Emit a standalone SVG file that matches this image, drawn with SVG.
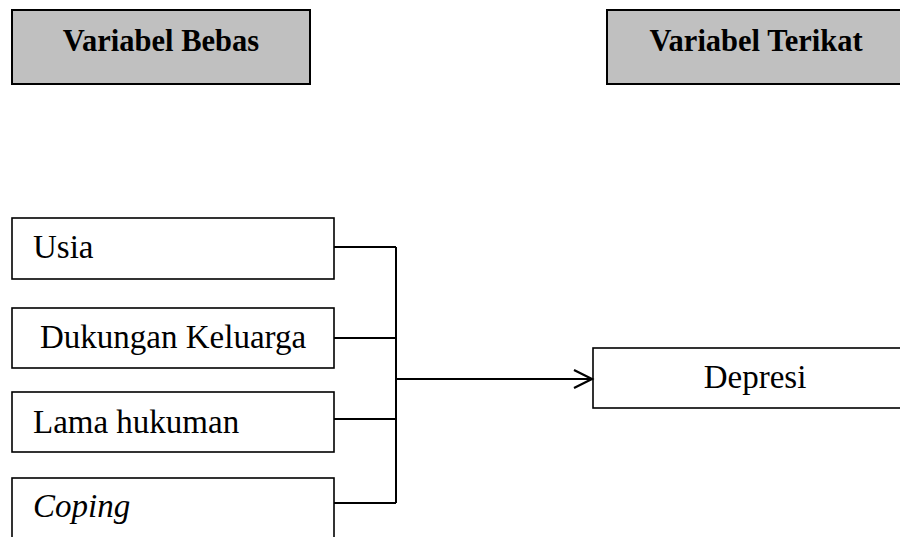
<svg xmlns="http://www.w3.org/2000/svg" width="900" height="537" viewBox="0 0 900 537">
<defs>
<style>
.hdr{fill:#c0c0c0;stroke:#000;stroke-width:2}
.box{fill:#fff;stroke:#000;stroke-width:1.6}
.ht{font-family:"Liberation Serif","Times New Roman",serif;font-weight:bold;font-size:30.5px;fill:#000}
.t{font-family:"Liberation Serif","Times New Roman",serif;font-size:33px;fill:#000}
.ln{fill:none;stroke:#000;stroke-width:2}
</style>
<marker id="arr" markerWidth="24" markerHeight="24" refX="20" refY="10" orient="auto" markerUnits="userSpaceOnUse">
<path d="M2,1 L20,10 L2,19" fill="none" stroke="#000" stroke-width="2.2"/>
</marker>
</defs>
<rect width="900" height="537" fill="#fff"/>
<g id="bebas">
<rect class="hdr" x="12" y="10" width="298" height="74"/>
<text class="ht" x="161" y="51" text-anchor="middle">Variabel Bebas</text>
</g>
<g id="terikat">
<rect class="hdr" x="607" y="10" width="300" height="74"/>
<text class="ht" x="756" y="51" text-anchor="middle">Variabel Terikat</text>
</g>
<g id="usia">
<rect class="box" x="12" y="218" width="322" height="61"/>
<text class="t" x="33" y="258">Usia</text>
</g>
<g id="dukungan">
<rect class="box" x="12" y="308" width="322" height="60"/>
<text class="t" x="40" y="348">Dukungan Keluarga</text>
</g>
<g id="lama">
<rect class="box" x="12" y="392" width="322" height="60"/>
<text class="t" x="33" y="433">Lama hukuman</text>
</g>
<g id="coping">
<rect class="box" x="12" y="478" width="322" height="70"/>
<text class="t" x="33" y="517" font-style="italic">Coping</text>
</g>
<g id="depresi">
<rect class="box" x="593" y="348" width="320" height="60"/>
<text class="t" x="755" y="388" text-anchor="middle">Depresi</text>
</g>
<g id="connectors">
<path class="ln" d="M334,247 H396 M334,338 H396 M334,419 H396 M334,503 H396 M396,247 V503"/>
<path class="ln" d="M396,379 H592" marker-end="url(#arr)"/>
</g>
</svg>
